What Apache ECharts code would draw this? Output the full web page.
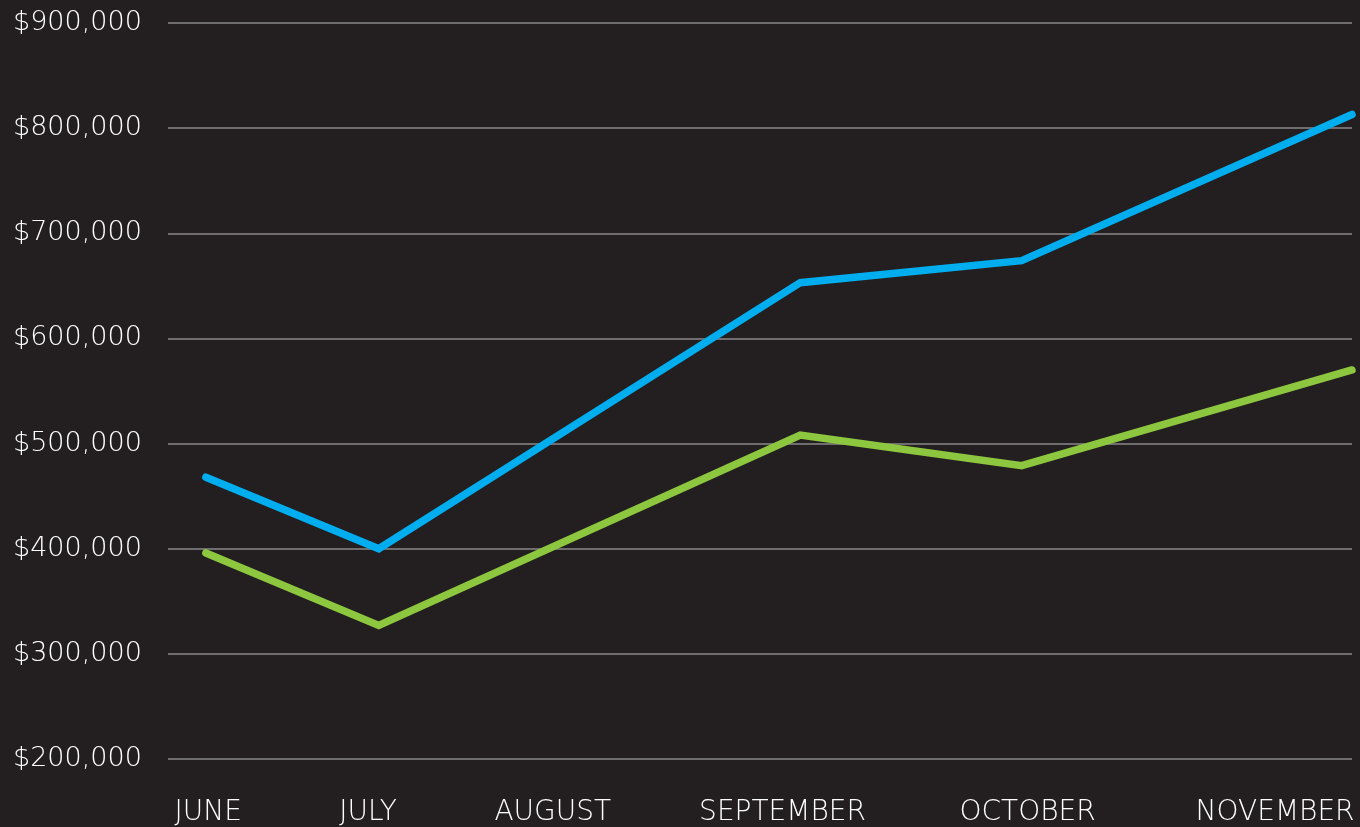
<!DOCTYPE html>
<html>
<head>
<meta charset="utf-8">
<script src="https://cdn.jsdelivr.net/npm/echarts@6/dist/echarts.min.js"></script>
<style>
html,body{margin:0;padding:0;background:#231f20;}
#chart{width:1360px;height:827px;}
</style>
</head>
<body>
<div id="chart"></div>
<script>
// Month labels and their positions along the timeline (0–100 scale)
const monthLabels = ['JUNE', 'JULY', 'AUGUST', 'SEPTEMBER', 'OCTOBER', 'NOVEMBER'];
const monthLabelPos = [3.4, 16.9, 32.5, 51.9, 72.6, 93.5];

// Observation positions along the same timeline
const pointPos = [3.2, 17.8, 53.4, 72.1, 100];
// Series values (USD)
const blueValues = [468000, 400000, 653000, 674000, 813000];
const greenValues = [396000, 327000, 508000, 479000, 570000];

// Y ticks
const yMin = 200000, yMax = 900000, yStep = 100000;

function pairs(xs, ys) { return xs.map((x, i) => [x, ys[i]]); }

const fontFam = "'DejaVu Sans', 'Noto Sans', sans-serif";
const chart = echarts.init(document.getElementById('chart'));
chart.setOption({
  backgroundColor: '#231f20',
  animation: false,
  grid: { left: 168, right: 8, top: 23, bottom: 68, containLabel: false },
  xAxis: {
    type: 'value',
    min: 0, max: 100,
    axisLine: { show: false },
    axisTick: { show: false },
    splitLine: { show: false },
    axisLabel: {
      customValues: monthLabelPos,
      formatter: function (v) {
        const i = monthLabelPos.indexOf(v);
        return i >= 0 ? monthLabels[i] : '';
      },
      color: '#ffffff',
      fontFamily: fontFam,
      fontWeight: 200,
      fontSize: 28,
      margin: 40,
      hideOverlap: false
    }
  },
  yAxis: {
    type: 'value',
    min: yMin, max: yMax, interval: yStep,
    axisLine: { show: false },
    axisTick: { show: false },
    splitLine: { show: true, lineStyle: { color: '#8a8888', width: 1.5 } },
    axisLabel: {
      formatter: v => '$' + v.toLocaleString('en-US'),
      color: '#ffffff',
      fontFamily: fontFam,
      fontWeight: 200,
      fontSize: 27,
      align: 'left',
      margin: 155,
      verticalAlign: 'middle'
    }
  },
  series: [
    {
      type: 'line',
      data: pairs(pointPos, greenValues),
      symbol: 'none',
      lineStyle: { color: '#8dc63f', width: 7.5, cap: 'round', join: 'miter' }
    },
    {
      type: 'line',
      data: pairs(pointPos, blueValues),
      symbol: 'none',
      lineStyle: { color: '#00aeef', width: 7.5, cap: 'round', join: 'miter' }
    }
  ]
});
</script>
</body>
</html>
